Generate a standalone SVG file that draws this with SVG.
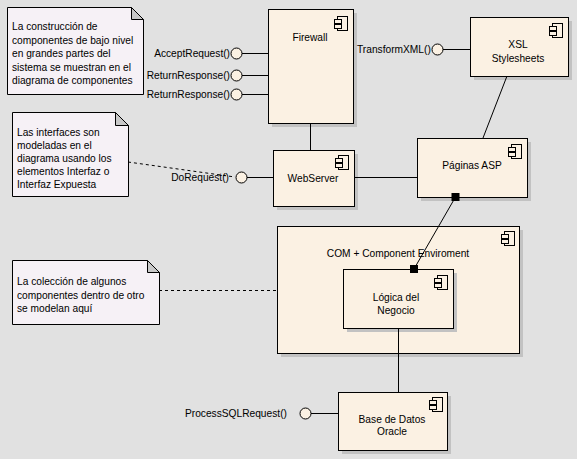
<svg xmlns="http://www.w3.org/2000/svg" width="577" height="459" viewBox="0 0 577 459">
<style>
  text { font-family: "Liberation Sans", Arial, sans-serif; font-size: 10.2px; fill: #000; }
  .lbl { text-anchor: middle; }
  .node { fill: #fbf1e3; stroke: #000; stroke-width: 1; }
  .shadow { fill: #c2c2c2; }
  .note { fill: #f6f1f6; stroke: #000; stroke-width: 1; }
  .fold { fill: #c8c8c8; stroke: #000; stroke-width: 1; }
  .conn { stroke: #000; stroke-width: 1; fill: none; }
  .dash { stroke: #000; stroke-width: 1; fill: none; stroke-dasharray: 3 3; }
  .iface { fill: #fbf1e3; stroke: #000; stroke-width: 1; }
  .ico { fill: #fbf1e3; stroke: #000; stroke-width: 1; }
</style>
<defs>
  <g id="cicon">
    <rect class="ico" x="3" y="0" width="10" height="14"/>
    <rect class="ico" x="0" y="3" width="7" height="4"/>
    <rect class="ico" x="0" y="8" width="7" height="4"/>
  </g>
</defs>
<rect x="0" y="0" width="577" height="459" fill="#e1e1e1"/>

<g id="note1">
  <path class="note" d="M7.5,7.5 H131.5 L143.5,19.5 V94.5 H7.5 Z"/>
  <path class="fold" d="M131.5,7.5 V19.5 H143.5 Z"/>
  <text x="12" y="30">La construcción de</text>
  <text x="12" y="43.5">componentes de bajo nivel</text>
  <text x="12" y="57">en grandes partes del</text>
  <text x="12" y="70.5">sistema se muestran en el</text>
  <text x="12" y="84">diagrama de componentes</text>
</g>

<g id="note2">
  <path class="note" d="M12.5,112.5 H115.5 L128.5,125.5 V196.5 H12.5 Z"/>
  <path class="fold" d="M115.5,112.5 V125.5 H128.5 Z"/>
  <text x="17" y="136">Las interfaces son</text>
  <text x="17" y="149">modeladas en el</text>
  <text x="17" y="162">diagrama usando los</text>
  <text x="17" y="175">elementos Interfaz o</text>
  <text x="17" y="188">Interfaz Expuesta</text>
</g>

<g id="note3">
  <path class="note" d="M12.5,260.5 H147.5 L159.5,272.5 V324.5 H12.5 Z"/>
  <path class="fold" d="M147.5,260.5 V272.5 H159.5 Z"/>
  <text x="17" y="285">La colección de algunos</text>
  <text x="17" y="298.5">componentes dentro de otro</text>
  <text x="17" y="312">se modelan aquí</text>
</g>

<g id="firewall">
  <rect class="shadow" x="272" y="13" width="85" height="114"/>
  <rect class="node" x="268.5" y="9.5" width="85" height="114"/>
  <use href="#cicon" x="334.5" y="16.5"/>
  <text class="lbl" x="310" y="41">Firewall</text>
</g>

<g id="iface-accept">
  <line class="conn" x1="242" y1="53.5" x2="268" y2="53.5"/>
  <circle class="iface" cx="236.5" cy="53.5" r="5.5"/>
  <text x="230" y="57" text-anchor="end">AcceptRequest()</text>
</g>
<g id="iface-return1">
  <line class="conn" x1="242" y1="75.5" x2="268" y2="75.5"/>
  <circle class="iface" cx="236.5" cy="75.5" r="5.5"/>
  <text x="230" y="79" text-anchor="end">ReturnResponse()</text>
</g>
<g id="iface-return2">
  <line class="conn" x1="242" y1="94.5" x2="268" y2="94.5"/>
  <circle class="iface" cx="236.5" cy="94.5" r="5.5"/>
  <text x="230" y="98" text-anchor="end">ReturnResponse()</text>
</g>

<g id="xsl">
  <rect class="shadow" x="474" y="21" width="98" height="59"/>
  <rect class="node" x="470.5" y="17.5" width="98" height="59"/>
  <use href="#cicon" x="549.5" y="23.5"/>
  <text class="lbl" x="518" y="48">XSL</text>
  <text class="lbl" x="518" y="62">Stylesheets</text>
</g>

<g id="iface-transform">
  <line class="conn" x1="443" y1="49.5" x2="470" y2="49.5"/>
  <circle class="iface" cx="437.5" cy="49.5" r="5.5"/>
  <text x="357" y="53">TransformXML()</text>
</g>

<g id="webserver">
  <rect class="shadow" x="277" y="154" width="81" height="56"/>
  <rect class="node" x="273.5" y="150.5" width="81" height="56"/>
  <use href="#cicon" x="335.5" y="155.5"/>
  <text class="lbl" x="313" y="182">WebServer</text>
</g>

<g id="iface-dorequest">
  <line class="conn" x1="247" y1="177.5" x2="273" y2="177.5"/>
  <circle class="iface" cx="241.5" cy="177.5" r="5.5"/>
  <text x="229" y="181" text-anchor="end">DoRequest()</text>
</g>

<g id="paginas">
  <rect class="shadow" x="421" y="142" width="110" height="59"/>
  <rect class="node" x="417.5" y="138.5" width="110" height="59"/>
  <use href="#cicon" x="508.5" y="144.5"/>
  <text class="lbl" x="472" y="169">Páginas ASP</text>
</g>

<g id="com">
  <rect class="shadow" x="281" y="230" width="242" height="127"/>
  <rect class="node" x="277.5" y="226.5" width="242" height="127"/>
  <use href="#cicon" x="501.5" y="231.5"/>
  <text class="lbl" x="398" y="257">COM + Component Enviroment</text>
</g>

<g id="logica">
  <rect class="shadow" x="347" y="273" width="110" height="59"/>
  <rect class="node" x="343.5" y="269.5" width="110" height="59"/>
  <use href="#cicon" x="434.5" y="275.5"/>
  <text class="lbl" x="396" y="301">Lógica del</text>
  <text class="lbl" x="396" y="314">Negocio</text>
</g>

<g id="base">
  <rect class="shadow" x="342" y="396" width="109" height="58"/>
  <rect class="node" x="338.5" y="392.5" width="109" height="58"/>
  <use href="#cicon" x="429.5" y="397.5"/>
  <text class="lbl" x="392" y="423">Base de Datos</text>
  <text class="lbl" x="392" y="435">Oracle</text>
</g>

<g id="iface-sql">
  <line class="conn" x1="311" y1="413.5" x2="338" y2="413.5"/>
  <circle class="iface" cx="305.5" cy="413.5" r="5.5"/>
  <text x="185" y="417">ProcessSQLRequest()</text>
</g>

<g id="connectors">
  <line class="conn" x1="310.5" y1="123" x2="310.5" y2="150"/>
  <line class="conn" x1="354" y1="177.5" x2="417" y2="177.5"/>
  <line class="conn" x1="507" y1="76" x2="483" y2="138"/>
  <line class="conn" x1="455.5" y1="197" x2="414" y2="269"/>
  <rect x="451.5" y="193" width="8" height="8" fill="#000"/>
  <rect x="410" y="265" width="8" height="8" fill="#000"/>
  <line class="conn" x1="398.5" y1="328" x2="398.5" y2="392"/>
  <line class="dash" x1="128" y1="162" x2="235" y2="177"/>
  <line class="dash" x1="159" y1="290.5" x2="277" y2="290.5"/>
</g>
</svg>
